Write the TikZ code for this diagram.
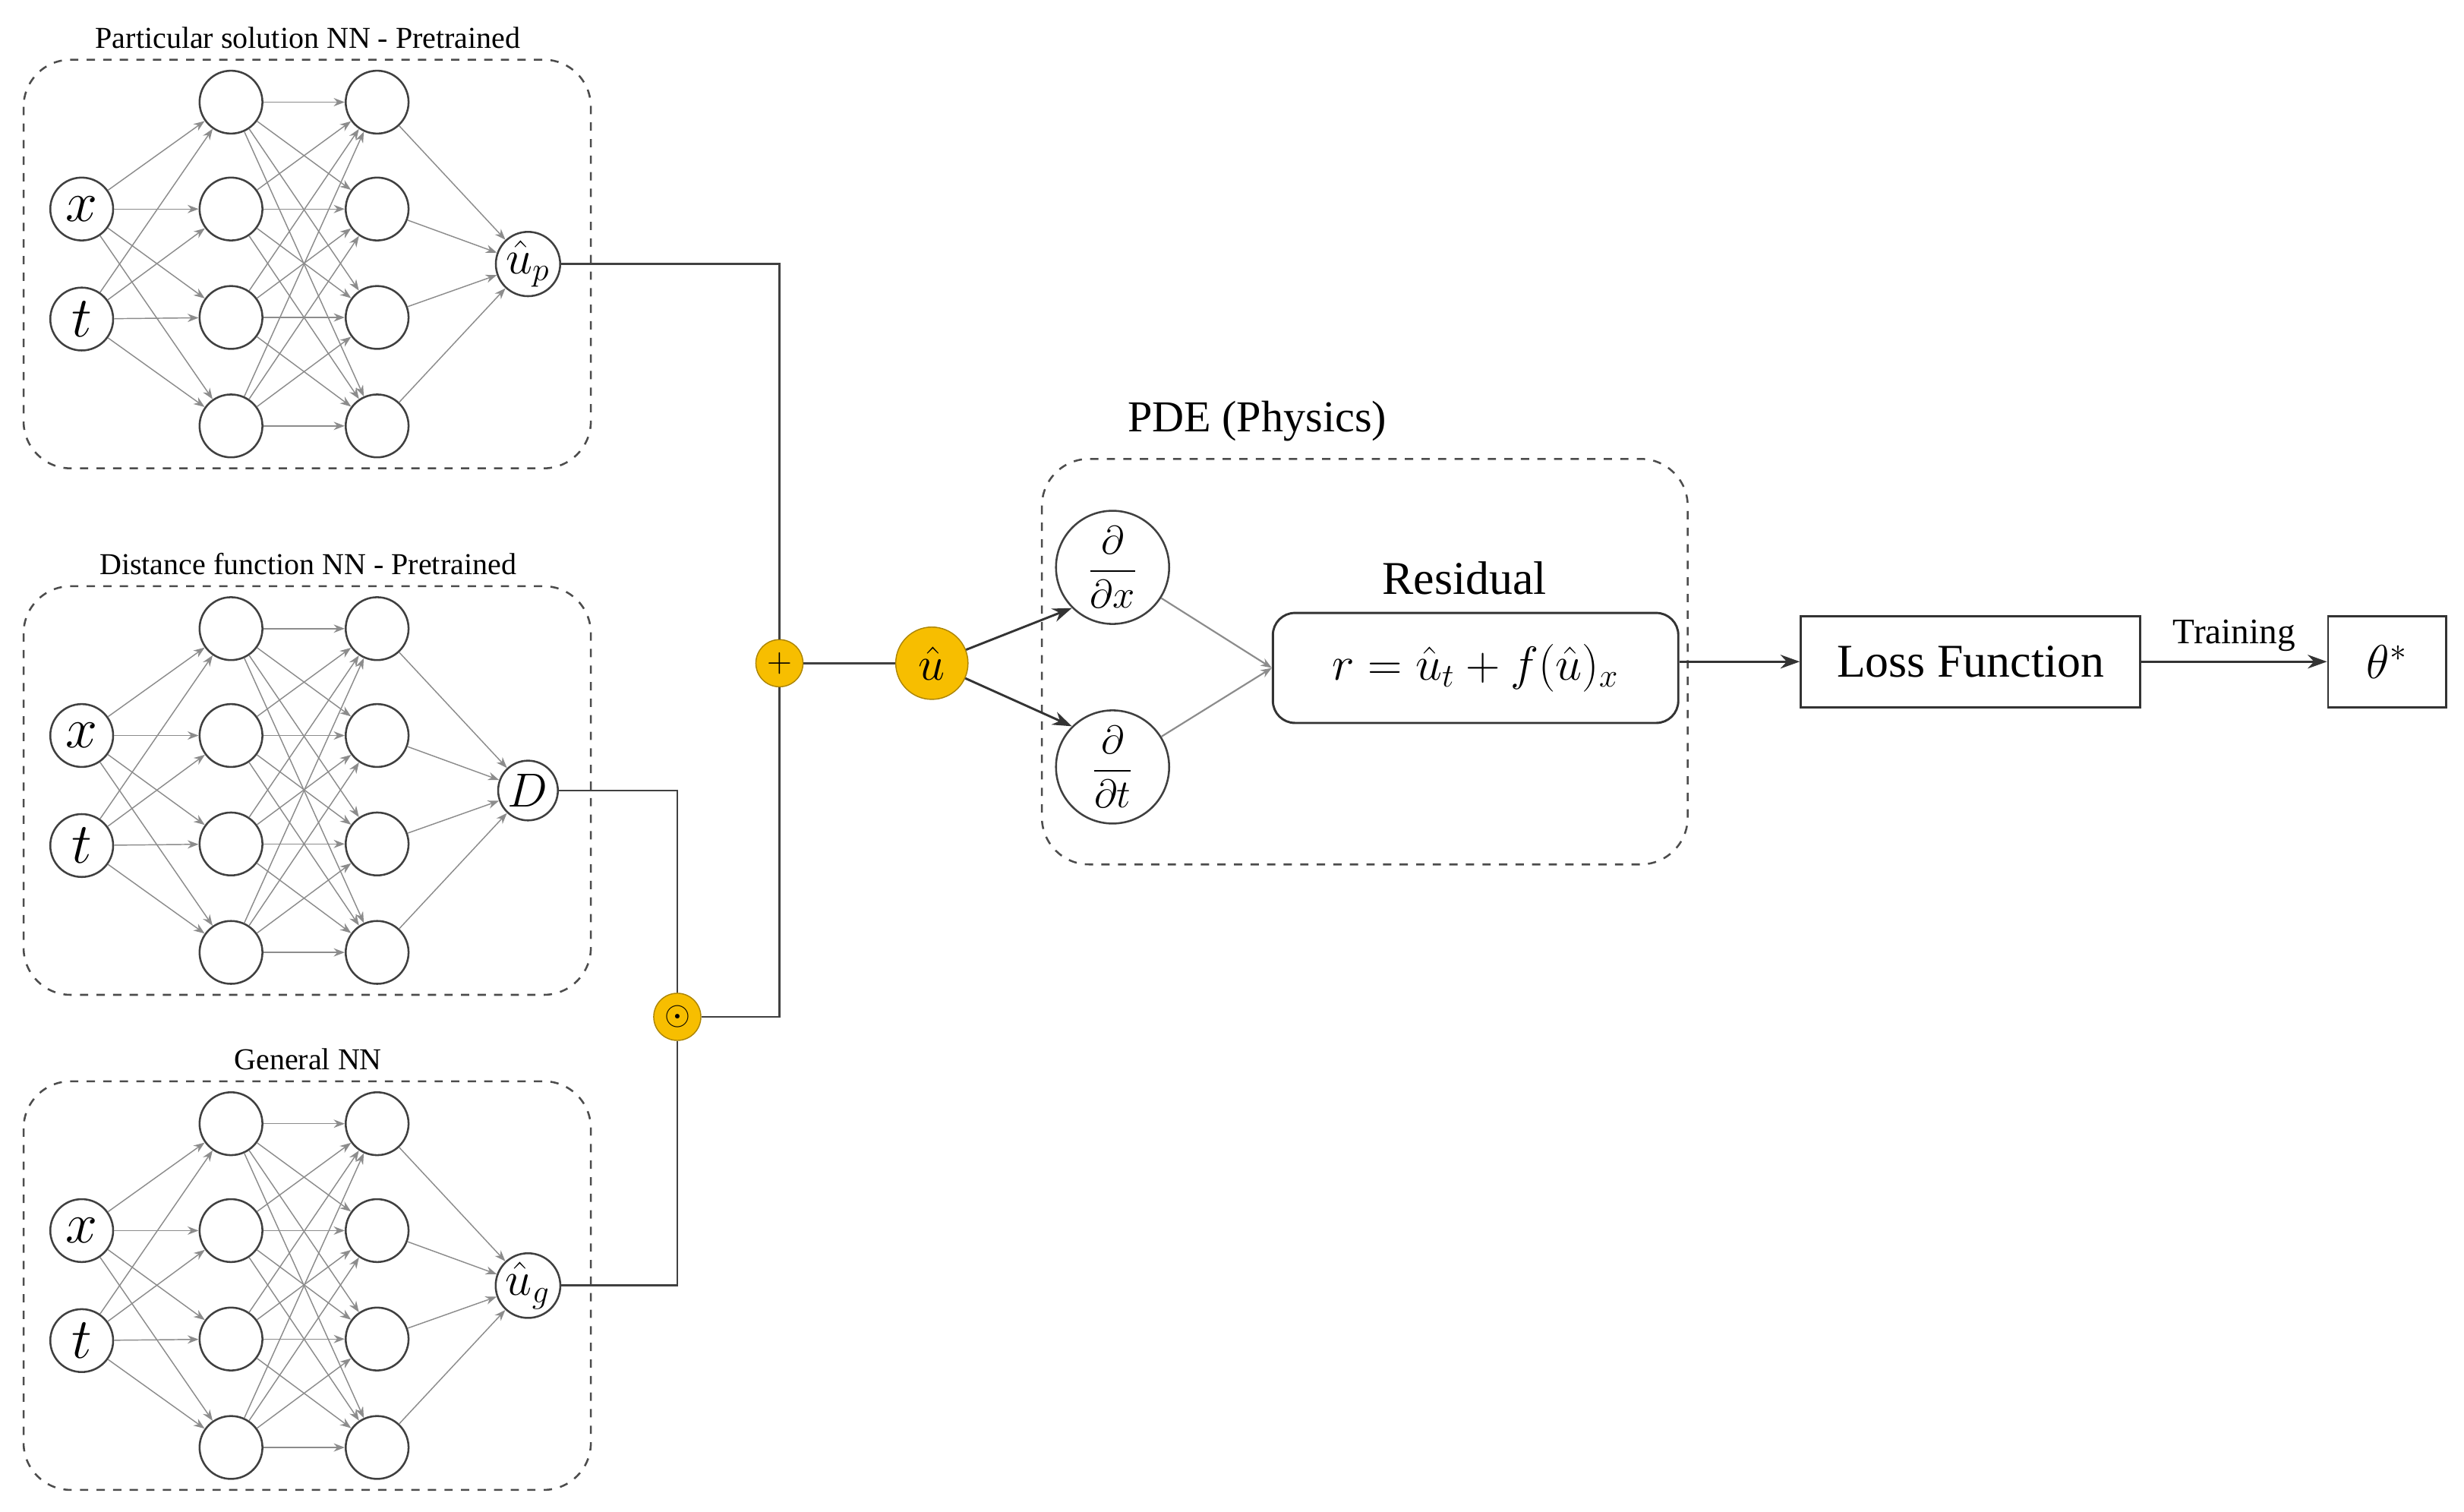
\documentclass[tikz,border=0pt]{standalone}
\usepackage{fontspec}
\setmainfont{Liberation Serif}
\usepackage{amsmath}
\usetikzlibrary{arrows.meta}
\definecolor{gold}{HTML}{F7BE00}
\begin{document}
\begin{tikzpicture}[x=0.02cm,y=-0.02cm,
  neu/.style={circle,draw=black!75,line width=0.7pt,minimum size=40*0.02cm,inner sep=0pt},
  outn/.style={circle,draw=black!75,line width=0.7pt,minimum size=38*0.02cm,inner sep=0pt},
  nnarr/.style={draw=black!45,line width=0.4pt,-{Stealth[length=4pt,width=3pt]}},
  grp/.style={draw=black!70,dashed,line width=0.7pt,rounded corners=30*0.02cm},
  wire/.style={draw=black!75,line width=0.8pt},
  arr/.style={draw=black!80,line width=0.8pt,-{Stealth[length=7pt,width=5pt]}},
  op/.style={circle,fill=gold,draw=gold!70!black,line width=0.4pt,minimum size=30*0.02cm,inner sep=0pt},
  ttl/.style={font=\fontsize{11}{12}\selectfont}]
\useasboundingbox (0,0) rectangle (1568,962);
\foreach \nm/\dy/\tt/\outl in {A/0/Particular solution NN - Pretrained/{$\hat u_p$},B/335/Distance function NN - Pretrained/{$D$},C/650/General NN/{$\hat u_g$}}{
  \draw[grp] (15,38+\dy) rectangle (376,298+\dy);
  \node[ttl] (\nm title) at (196,24+\dy) {\tt};
  \node[neu,font=\fontsize{21}{22}\selectfont] (\nm i1) at (52,133+\dy) {$x$};
  \node[neu,font=\fontsize{21}{22}\selectfont] (\nm i2) at (52,203+\dy) {$t$};
  \foreach \k/\yy in {1/65,2/133,3/202,4/271}{
    \node[neu] (\nm a\k) at (147,\yy+\dy) {};
    \node[neu] (\nm b\k) at (240,\yy+\dy) {};
  }
  \node[outn,font=\fontsize{17}{18}\selectfont] (\nm o) at (336,168+\dy) {\outl};
  \foreach \k in {1,2,3,4}{
    \foreach \i in {1,2} \draw[nnarr] (\nm i\i) -- (\nm a\k);
    \foreach \j in {1,2,3,4} \draw[nnarr] (\nm a\j) -- (\nm b\k);
    \draw[nnarr] (\nm b\k) -- (\nm o);
  }
}
\node[op,font=\large] (plus) at (496,422) {$+$};
\node[op,font=\large] (odot) at (431,647) {$\odot$};
\node[op,minimum size=46*0.02cm,font=\fontsize{19}{20}\selectfont] (uh) at (593,422) {$\hat u$};
\draw[wire] (Ao.east) -| (plus.north);
\draw[wire] (Bo.east) -| (odot.north);
\draw[wire] (Co.east) -| (odot.south);
\draw[wire] (odot.east) -| (plus.south);
\draw[wire] (plus) -- (uh);
\draw[grp] (663,292) rectangle (1074,550);
\node[font=\fontsize{16}{18}\selectfont] (pdet) at (800,268) {PDE (Physics)};
\node[neu,minimum size=72*0.02cm,font=\fontsize{15}{16}\selectfont] (dx) at (708,361) {$\dfrac{\partial}{\partial x}$};
\node[neu,minimum size=72*0.02cm,font=\fontsize{15}{16}\selectfont] (dt) at (708,488) {$\dfrac{\partial}{\partial t}$};
\draw[arr] (uh) -- (dx.south west);
\draw[arr] (uh) -- (dt.north west);
\node[font=\fontsize{17}{19}\selectfont] (rest) at (932,368) {Residual};
\node[draw=black!80,line width=0.8pt,rounded corners=8pt,minimum width=258*0.02cm,minimum height=70*0.02cm,font=\fontsize{18}{19}\selectfont] (res) at (939,425) {$r=\hat u_t+f(\hat u)_x$};
\draw[nnarr,line width=0.6pt] (dx) -- (res.west);
\draw[nnarr,line width=0.6pt] (dt) -- (res.west);
\node[draw=black!80,line width=0.8pt,minimum width=216*0.02cm,minimum height=58*0.02cm,font=\fontsize{17}{19}\selectfont] (loss) at (1254,421) {Loss Function};
\node[draw=black!80,line width=0.8pt,minimum width=75*0.02cm,minimum height=58*0.02cm,font=\fontsize{17}{19}\selectfont] (th) at (1519,421) {$\theta^*$};
\draw[arr] (res.east |- loss.west) -- (loss.west);
\draw[arr] (loss.east) -- node[above,font=\fontsize{13}{14}\selectfont] (trl) {Training} (th.west);
\end{tikzpicture}
\end{document}
